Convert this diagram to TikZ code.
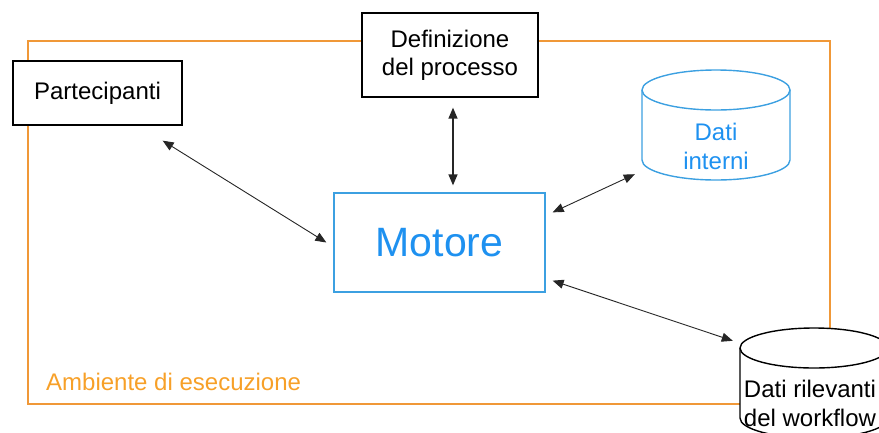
\documentclass[tikz,border=0pt]{standalone}
\usepackage{fontspec}
\setmainfont{Liberation Sans}
\usetikzlibrary{arrows.meta,calc}
\definecolor{frameor}{RGB}{240,152,56}
\definecolor{txtor}{RGB}{247,160,40}
\definecolor{bordblue}{RGB}{60,160,225}
\definecolor{txtblue}{RGB}{30,145,240}
\begin{document}
\begin{tikzpicture}[x=1pt,y=-1pt,
  box/.style={draw=black, line width=1.3pt, fill=white, inner sep=0pt,
    font=\fontsize{24}{28}\selectfont, align=center},
  ghost/.style={inner sep=0pt, draw=none},
  dbl/.style={{Triangle[length=11pt,width=9pt]}-{Triangle[length=11pt,width=9pt]}, line width=0.9pt, draw=black!85},
  cyl/.style={line width=1.4pt},
  lbl/.style={font=\fontsize{24}{29}\selectfont, align=center, inner sep=0pt}]
\useasboundingbox (0,0) rectangle (879,432);
\clip (0,0) rectangle (879,432);
% frame
\draw[frameor, line width=1.3pt] (28,41) rectangle (830,404);
\node[anchor=base west, text=txtor, font=\fontsize{24}{28}\selectfont, inner sep=0pt] (amb) at (46,390) {Ambiente di esecuzione};
% boxes
\node[box, minimum width=169pt, minimum height=64pt] (part) at (97.5,93) {Partecipanti};
\node[box, minimum width=176pt, minimum height=84pt] (def) at (450,55) {Definizione\\del processo};
\node[draw=bordblue, line width=1.3pt, fill=white, minimum width=211pt, minimum height=99pt, inner sep=0pt,
  text=txtblue, font=\fontsize{41}{48}\selectfont] (mot) at (439.5,242.5) {Motore};
% Dati interni cylinder
\node[ghost, minimum width=148pt, minimum height=110pt] (di) at (716,125) {};
\draw[cyl, bordblue] (642,90) -- (642,160) arc[start angle=180,end angle=360,x radius=74pt,y radius=20pt] -- (790,90);
\draw[cyl, bordblue] (716,90) ellipse [x radius=74pt,y radius=20pt];
\node[lbl, text=txtblue] (ditxt) at (716,146) {Dati\\interni};
% Dati rilevanti cylinder
\node[ghost, minimum width=148pt, minimum height=110pt] (dr) at (814,383) {};
\fill[white] (740,348) -- (740,418) arc[start angle=180,end angle=360,x radius=74pt,y radius=20pt] -- (888,348) arc[start angle=0,end angle=180,x radius=74pt,y radius=20pt] -- cycle;
\draw[cyl, black] (740,348) -- (740,418) arc[start angle=180,end angle=360,x radius=74pt,y radius=20pt] -- (888,348);
\draw[cyl, black] (814,348) ellipse [x radius=74pt,y radius=20pt];
\node[lbl, text=black] (drtxt) at (810,403) {Dati rilevanti\\del workflow};
% connectors
\draw[dbl] ($(part.south east)+(-20,15)$) -- ($(mot.west)+(-7,0)$);
\draw[dbl, line width=1.4pt] ($(def.south)+(3,10)$) -- ($(def.south |- mot.north)+(3,-7)$);
\draw[dbl] ($(mot.north east)+(7,20)$) -- ($(di.south west)+(-7,-6)$);
\draw[dbl] ($(mot.south east)+(7,-12)$) -- ($(dr.north west)+(-7,13)$);
\end{tikzpicture}
\end{document}
